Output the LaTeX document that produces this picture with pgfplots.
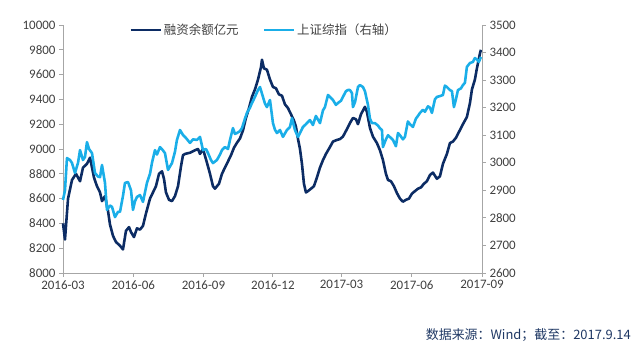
\documentclass[border=0pt]{standalone}
\usepackage{pgfplots}
\pgfplotsset{compat=1.18}
\usepackage{fontspec}
\setmainfont{Carlito}
\newfontfamily\cjk{Noto Sans CJK SC}
\definecolor{darkser}{HTML}{0C2C64}
\definecolor{lightser}{HTML}{1AAEE8}
\definecolor{axgray}{HTML}{A6A6A6}
\definecolor{lbl}{HTML}{404040}
\definecolor{src}{HTML}{1F3864}

\pgfplotstableread{
d v
0 8400
2.6 8270
6.6 8600
11.8 8750
17 8800
22.3 8740
26.2 8850
31.4 8880
35.4 8930
38 8850
40.6 8770
44.5 8700
48.5 8650
51.1 8580
55 8620
59 8500
61.6 8390
65.5 8300
69.4 8250
74.7 8220
78.6 8190
82.5 8340
86.5 8370
89.1 8330
93 8290
96.9 8360
100.9 8350
104.8 8380
108.7 8480
114 8600
117.9 8650
121.8 8700
125.8 8800
129.7 8820
132.3 8760
134.9 8650
138.9 8590
142.8 8580
146.7 8620
150.7 8700
154.6 8860
157.2 8950
159.8 8960
166.4 8970
172.9 8990
176.9 9000
179.5 8960
183.4 9000
188.6 8890
192.6 8800
196.5 8700
199.1 8680
204.4 8720
208.3 8800
212.2 8850
216.2 8900
220.1 8950
224 9010
227.9 9050
231.9 9085
235.8 9150
239.7 9250
243.7 9330
247.6 9420
251.5 9480
255.5 9560
259.4 9660
260.7 9720
263.3 9650
267.2 9640
271.2 9560
275.1 9500
279 9490
283 9440
286.9 9430
290.8 9360
294.8 9330
298.7 9280
302.6 9230
305.2 9180
307.9 9080
310.5 9000
313.1 8880
315.7 8720
318.3 8650
320.9 8660
324.9 8680
328.8 8700
332.7 8770
336.7 8850
340.6 8910
344.5 8960
349.8 9016
353.7 9060
358.9 9073
362.9 9080
366.8 9100
372 9160
376 9210
379.9 9250
383.8 9240
386.5 9200
390.4 9280
395.6 9340
398.2 9300
402.2 9170
406.1 9100
411.3 9048
415.3 8990
419.2 8911
423.1 8800
425.8 8750
429.7 8740
433.6 8700
437.5 8645
441.5 8600
445.4 8575
449.3 8590
453.3 8600
457.2 8640
461.1 8660
465.1 8680
469 8690
472.9 8720
476.8 8740
480.8 8790
484.7 8810
489.9 8760
493.9 8780
497.8 8880
503 8960
507 9048
510.9 9060
514.8 9090
520.1 9153
524 9200
529.2 9258
533.2 9370
535.8 9480
539.7 9560
542.3 9650
546.3 9770
547.6 9800
}\margin

\pgfplotstableread{
d v
0 2865
2.6 2900
5.2 3017
9.2 3010
11.8 2999
15.7 2963
19.7 3000
22.3 3046
26.2 3010
28.8 3021
31.4 3075
34.1 3050
38 3035
41.9 2963
45.9 2950
48.5 2948
51.1 2992
55 2927
57.6 2829
61.6 2845
64.2 2840
68.1 2803
72.1 2822
74.7 2822
78.6 2880
81.2 2927
85.2 2930
89.1 2900
91.7 2829
94.3 2860
96.9 2876
100.9 2883
104.8 2858
110 2927
114 2960
116.6 3000
120.5 3046
123.1 3030
127.1 3057
131 3045
133.6 3035
137.6 2974
142.8 2999
146.7 3040
149.3 3083
153.3 3119
157.2 3101
161.1 3090
166.4 3072
170.3 3085
175.5 3083
179.5 3094
183.4 3046
187.3 3050
190 3035
193.9 3010
196.5 2999
201.7 3010
205.7 3030
208.3 3046
212.2 3057
216.2 3050
218.8 3083
222.7 3126
225.3 3105
227.9 3108
231.9 3115
234.5 3126
238.4 3160
241 3181
245 3200
247.6 3217
251.5 3239
255.5 3264
258.1 3275
262 3239
264.6 3215
267.2 3202
271.2 3228
275.1 3144
277.7 3120
280.3 3108
284.3 3119
288.2 3094
293.4 3119
297.4 3130
300 3162
303.9 3119
307.9 3094
310.5 3108
314.4 3130
318.3 3140
320.9 3148
323.6 3155
327.5 3137
331.4 3170
336.7 3144
340.6 3190
343.2 3202
347.2 3246
351.1 3235
353.7 3228
357.6 3210
360.3 3217
364.2 3225
366.8 3239
370.7 3260
373.4 3264
376 3264
378.6 3253
379.9 3202
382.6 3220
386.5 3275
389.1 3282
393 3275
395.6 3260
399.6 3210
402.2 3160
404.8 3144
408.7 3144
412.7 3135
415.3 3125
417.9 3119
419.2 3057
423.1 3085
425.8 3100
429.7 3090
432.3 3083
436.2 3060
438.9 3108
441.5 3100
445.4 3085
448 3094
451.9 3150
454.6 3140
458.5 3130
462.4 3160
465.1 3170
467.7 3181
471.6 3192
474.2 3185
478.2 3205
480.8 3200
483.4 3181
487.3 3230
489.9 3239
493.9 3242
497.8 3246
500.4 3280
503 3275
507 3264
509.6 3260
512.2 3202
514.8 3230
517.5 3264
521.4 3270
524 3282
526.6 3290
529.2 3348
533.2 3362
537.1 3366
539.7 3380
542.3 3375
544.9 3366
547.6 3384
}\shindex

\pgfplotsset{
  common/.style={
    at={(63bp,78bp)}, anchor=south west,
    width=419bp, height=248bp, scale only axis,
    xmin=0, xmax=549,
    tick align=outside,
    axis line style={axgray, line width=0.8pt},
    major tick style={axgray, line width=0.8pt},
    major tick length=4bp,
    tick label style={font=\fontsize{13}{15}\selectfont, text=lbl},
    scaled y ticks=false, scaled x ticks=false,
    /pgf/number format/assume math mode=true,
    /pgf/number format/fixed,
    /pgf/number format/1000 sep={},
    clip=false,
  }
}

\begin{document}
\begin{tikzpicture}
\path (0,0) rectangle (640bp,351bp);
\begin{axis}[common,
  ymin=8000, ymax=10000,
  axis y line*=left, axis x line*=bottom,
  xtick={0,92,184,275,365,457,549},
  xticklabels={2016-03,2016-06,2016-09,2016-12,2017-03,2017-06,2017-09},
  ytick={8000,8200,...,10000},
  legend style={at={(0.48,0.98)}, anchor=center, draw=none, fill=none,
    font=\cjk\fontsize{12.5}{14}\selectfont, text=lbl,
    /tikz/every even column/.append style={column sep=22bp}},
  legend columns=2,
  legend image code/.code={\draw[#1] (0bp,0bp) -- (30bp,0bp);},
]
\addplot[darkser, line width=2.6pt, line join=round] table[x=d,y=v] {\margin};
\addlegendentry{融资余额亿元}
\addlegendimage{lightser, line width=2.6pt}
\addlegendentry{上证综指（右轴）}
\end{axis}
\begin{axis}[common,
  ymin=2600, ymax=3500,
  axis y line*=right, axis x line=none,
  ytick={2600,2700,...,3500},
]
\addplot[lightser, line width=2.6pt, line join=round] table[x=d,y=v] {\shindex};
\end{axis}
\node[anchor=east, text=src, font=\cjk\fontsize{13}{15}\selectfont, inner sep=0pt] at (631bp,16bp) {数据来源：Wind；截至：2017.9.14};
\end{tikzpicture}
\end{document}
